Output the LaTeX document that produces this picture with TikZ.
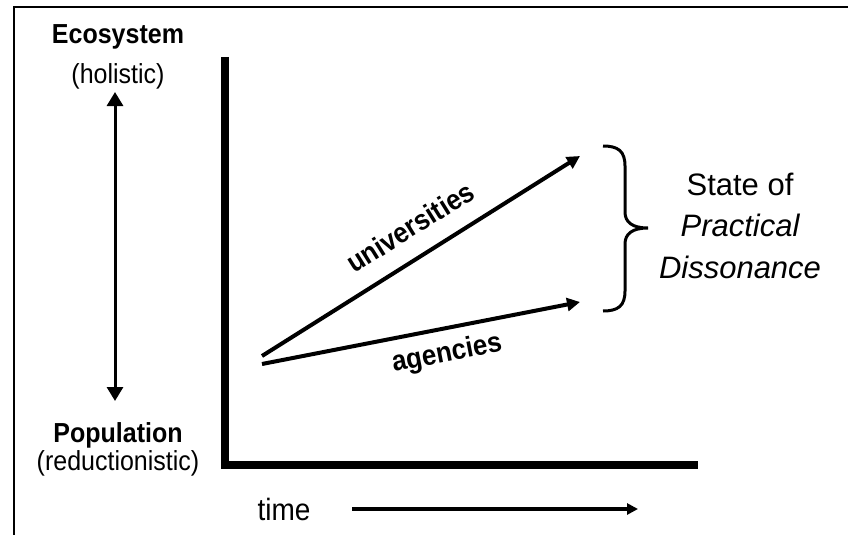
\documentclass[tikz,border=0pt]{standalone}
\usepackage{fontspec}
\usepackage{graphicx}
\setmainfont{Liberation Sans}
\usetikzlibrary{arrows.meta}
\newcommand{\tallt}[1]{\scalebox{1}[1.1]{#1}}
\begin{document}
\begin{tikzpicture}[x=1pt,y=-1pt,
  lbl/.style={anchor=base,inner sep=0pt,font=\fontsize{25}{30}\selectfont},
  blbl/.style={lbl,font=\fontsize{25}{30}\selectfont\bfseries},
  slbl/.style={anchor=base,inner sep=0pt,font=\fontsize{31}{37}\selectfont},
  arrlbl/.style={inner sep=0pt,font=\fontsize{26}{30}\selectfont\bfseries},
  axisline/.style={line width=8pt,line join=miter},
  framel/.style={line width=2pt},
  darrow/.style={line width=3pt,{Triangle[length=14pt,width=16pt]}-{Triangle[length=14pt,width=16pt]}},
  trend/.style={line width=4pt,-{Triangle[length=13pt,width=13pt]}},
  timearr/.style={line width=4pt,-{Triangle[length=11pt,width=11pt]}},
  bracel/.style={line width=3pt}]
\useasboundingbox (0,0) rectangle (848,535);
% frame
\draw[framel] (14,535) -- (14,7) -- (848,7);
% left scale labels
\node[blbl] (eco) at (118,44) {\tallt{Ecosystem}};
\node[lbl] (hol) at (118,83) {\tallt{(holistic)}};
\node[blbl] (pop) at (118,442) {\tallt{Population}};
\node[lbl] (red) at (118,470) {\tallt{(reductionistic)}};
\coordinate (vtop) at (115,92);
\coordinate (vbot) at (115,401);
\draw[darrow] (vtop) -- (vbot);
% axes
\coordinate (ytop) at (225,57);
\coordinate (orig) at (225,465);
\coordinate (xend) at (698,465);
\draw[axisline] (ytop) -- (orig) -- (xend);
% trends
\coordinate (us) at (262,356);
\coordinate (ue) at (580,156);
\coordinate (as) at (262,364);
\coordinate (ae) at (580,302);
\draw[trend] (us) -- (ue);
\draw[trend] (as) -- (ae);
\node[arrlbl,rotate=32] (univ) at (410,227) {\tallt{universities}};
\node[arrlbl,rotate=11] (agen) at (447,354) {\tallt{agencies}};
% brace
\draw[bracel] (603,146) .. controls (618,146) and (625,151) .. (625,166) -- (625,212)
  .. controls (625,222) and (632,228) .. (648,228)
  .. controls (632,228) and (625,234) .. (625,244) -- (625,291)
  .. controls (625,306) and (618,311) .. (603,311);
\node[slbl] (st) at (740,195) {State of};
\node[slbl] (pr) at (740,236) {\itshape Practical};
\node[slbl] (di) at (740,278) {\itshape Dissonance};
% time
\node[anchor=base,inner sep=0pt,font=\fontsize{28}{32}\selectfont] (time) at (284,520) {\tallt{time}};
\coordinate (ts) at (352,509);
\coordinate (te) at (638,509);
\draw[timearr] (ts) -- (te);
\end{tikzpicture}
\end{document}
